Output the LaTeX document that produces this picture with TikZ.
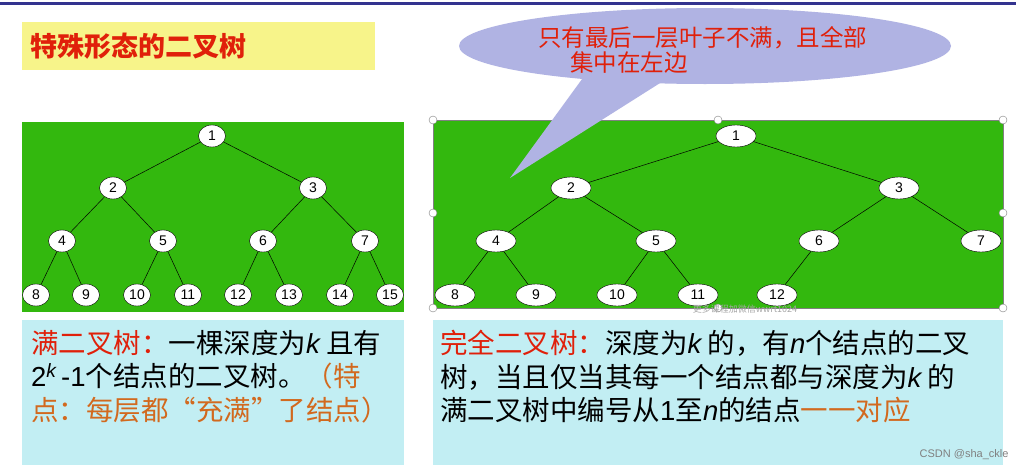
\documentclass[tikz,border=0pt]{standalone}
\usepackage{fontspec}
\setmainfont{Noto Sans CJK SC}
\newfontfamily\lat{Liberation Sans}
\usetikzlibrary{shapes.geometric}
\definecolor{grn}{HTML}{33B80E}
\definecolor{cyanbox}{HTML}{C2EEF3}
\definecolor{ttl}{HTML}{F7F48A}
\definecolor{callout}{HTML}{B0B3E3}
\definecolor{redt}{HTML}{E0200A}
\definecolor{orgt}{HTML}{D2691E}
\newcommand{\kv}{{\lat\itshape k}}
\newcommand{\nv}{{\lat\itshape n}}
\begin{document}
\begin{tikzpicture}[x=1pt,y=-1pt,
  tn/.style={ellipse,draw=black,fill=white,inner sep=0pt,minimum width=27pt,minimum height=22pt,font=\lat\fontsize{14}{14}\selectfont},
  tnw/.style={tn,minimum width=40pt},
  ed/.style={draw=black,line width=0.5pt},
  hdl/.style={circle,draw=gray,fill=white,inner sep=0pt,minimum size=8pt},
  bt/.style={anchor=north west,font=\fontsize{27.5}{33.5}\selectfont,align=left,inner sep=0pt}]
\useasboundingbox (0,0) rectangle (1016,471);
\fill[white] (0,0) rectangle (1016,471);
\fill[blue!45!black!80] (0,2) rectangle (1016,5);
% title
\fill[ttl] (22,22) rectangle (375,70);
\node[anchor=west,text=redt,font=\bfseries\fontsize{27}{27}\selectfont,inner sep=0pt] (title) at (30,46) {特殊形态的二叉树};
% left tree
\fill[grn] (22,122) rectangle (404,312);
\foreach \n/\x/\y in {1/212/136,2/113/188,3/313/188,4/62/241,5/163/241,6/263/241,7/365/241,8/36/295,9/86/295,10/137/295,11/188/295,12/238/295,13/289/295,14/340/295,15/390/295}
  \node[tn] (L\n) at (\x,\y) {\n};
\foreach \a/\b in {1/2,1/3,2/4,2/5,3/6,3/7,4/8,4/9,5/10,5/11,6/12,6/13,7/14,7/15}
  \draw[ed] (L\a) -- (L\b);
% right tree
\fill[grn] (433,120) rectangle (1003,308);
\draw[gray] (433,120) rectangle (1003,308);
\foreach \n/\x/\y in {1/736/136,2/571/188,3/899/188,4/496/241,5/656/241,6/819/241,7/981/241,8/455/295,9/536/295,10/617/295,11/698/295,12/777/295}
  \node[tnw] (R\n) at (\x,\y) {\n};
\foreach \a/\b in {1/2,1/3,2/4,2/5,3/6,3/7,4/8,4/9,5/10,5/11,6/12}
  \draw[ed] (R\a) -- (R\b);
\foreach \i/\x/\y in {a/433/120,b/718/120,c/1003/120,d/433/213,e/1003/213,f/433/308,g/718/308,h/1003/308}
  \node[hdl] (H\i) at (\x,\y) {};
\node[font=\fontsize{9}{9}\selectfont,text=gray!70] (wm) at (745,309) {更多课程加微信wwrt1024};
% callout
\fill[callout] (585,75) -- (510,178) -- (668,78) -- cycle;
\fill[callout] (705,46) ellipse (246pt and 38pt);
\node[anchor=west,text=redt,font=\fontsize{23.5}{23.5}\selectfont,inner sep=0pt] (c1) at (538,38) {只有最后一层叶子不满，且全部};
\node[anchor=west,text=redt,font=\fontsize{23.5}{23.5}\selectfont,inner sep=0pt] (c2) at (570,63) {集中在左边};
% bottom boxes
\fill[cyanbox] (22,320) rectangle (404,465);
\fill[cyanbox] (433,320) rectangle (1003,465);
\node[bt] (lt) at (31,330) {\textcolor{redt}{满二叉树：}一棵深度为\kv\ 且有\\{\lat 2}\textsuperscript{\kv}{\lat\,-1}个结点的二叉树。\textcolor{orgt}{（特}\\\textcolor{orgt}{点：每层都“充满”了结点）}};
\node[bt] (rt) at (440,330) {\textcolor{redt}{完全二叉树：}深度为\kv\ 的，有\nv 个结点的二叉\\树，当且仅当其每一个结点都与深度为\kv\ 的\\满二叉树中编号从{\lat 1}至\nv 的结点\textcolor{orgt}{一一对应}};
\node[anchor=east,text=gray,font=\lat\fontsize{11}{11}\selectfont] (csdn) at (1012,455) {CSDN @sha\_ckle};
\end{tikzpicture}
\end{document}
